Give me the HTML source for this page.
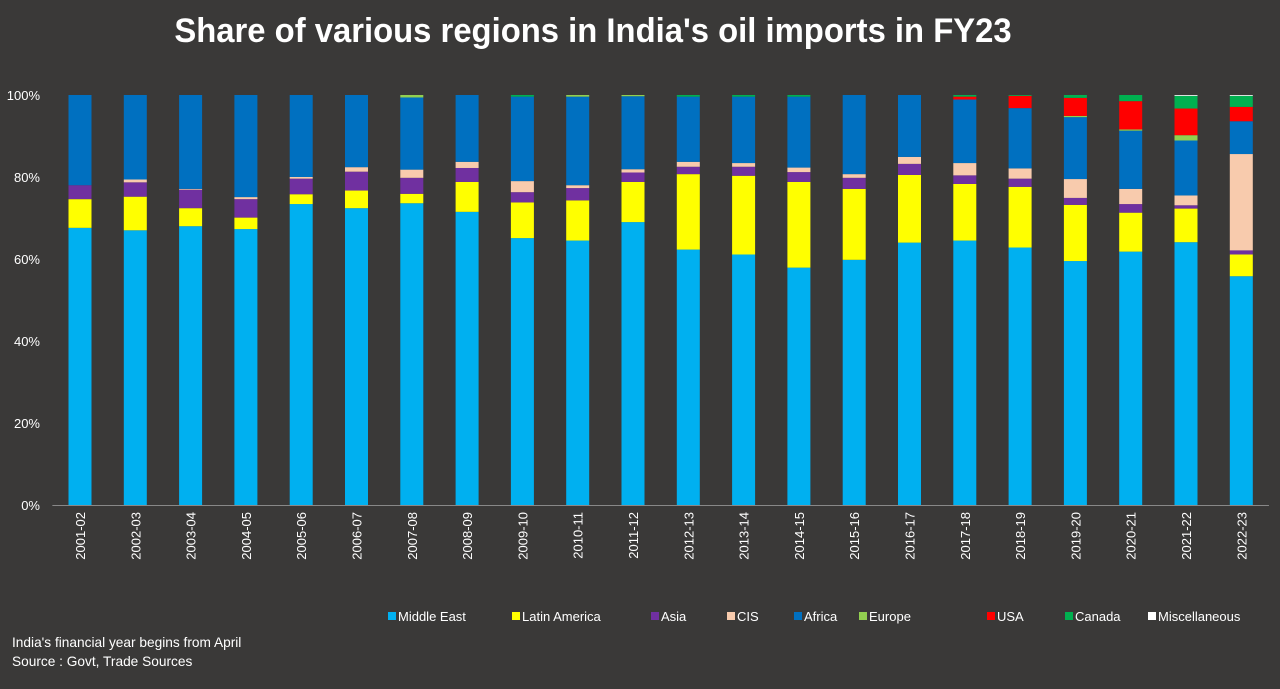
<!DOCTYPE html>
<html><head><meta charset="utf-8">
<style>
body{margin:0;background:#3a3938;width:1280px;height:689px;overflow:hidden;font-family:"Liberation Sans",sans-serif;}
svg{display:block}
</style></head>
<body>
<svg id="chart" width="1280" height="689" xmlns="http://www.w3.org/2000/svg">
<rect width="1280" height="689" fill="#3a3938"/>
<text x="593" y="42" text-anchor="middle" fill="#fff" font-size="34" font-weight="bold" transform="translate(593 0) scale(0.965 1) translate(-593 0)">Share of various regions in India's oil imports in FY23</text>
<g id="yaxis"></g>
<g id="bars"></g>
<g id="xlabels"></g>
<g id="legend"></g>
<text x="12" y="647" fill="#fff" font-size="13.7">India's financial year begins from April</text>
<text x="12" y="666" fill="#fff" font-size="13.7">Source : Govt, Trade Sources</text>
</svg>
<script>
const years=["2001-02","2002-03","2003-04","2004-05","2005-06","2006-07","2007-08","2008-09","2009-10","2010-11","2011-12","2012-13","2013-14","2014-15","2015-16","2016-17","2017-18","2018-19","2019-20","2020-21","2021-22","2022-23"];
const seriesNames=["Middle East","Latin America","Asia","CIS","Africa","Europe","USA","Canada","Miscellaneous"];
const colors=["#00b0f0","#ffff00","#7030a0","#f8cbad","#0070c0","#92d050","#ff0000","#00b050","#ffffff"];
const middleEast=[67.6,67.0,68.0,67.3,73.4,72.4,73.6,71.5,65.1,64.5,69.0,62.3,61.1,57.9,59.8,64.0,64.5,62.8,59.5,61.8,64.1,55.8];
const latinAmerica=[7.0,8.2,4.4,2.8,2.4,4.3,2.3,7.3,8.7,9.8,9.8,18.4,19.2,20.9,17.3,16.5,13.8,14.8,13.7,9.5,8.2,5.3];
const asia=[3.4,3.5,4.5,4.5,3.8,4.6,3.9,3.4,2.5,3.0,2.3,1.8,2.2,2.4,2.7,2.7,2.1,2.0,1.7,2.1,0.8,1.0];
const cis=[0,0.7,0.2,0.5,0.4,1.1,2.0,1.5,2.7,0.7,0.8,1.2,0.9,1.1,0.9,1.7,3.0,2.5,4.6,3.7,2.4,23.5];
const africa=[22.0,20.6,22.9,24.9,20.0,17.6,17.6,16.3,20.6,21.6,17.8,15.9,16.2,17.3,19.3,15.1,15.5,14.7,15.1,14.2,13.4,8.0];
const europe=[0,0,0,0,0,0,0.6,0,0,0.4,0.3,0,0,0,0,0,0,0,0.3,0.3,1.3,0];
const usa=[0,0,0,0,0,0,0,0,0,0,0,0,0,0,0,0,0.7,3.0,4.4,6.9,6.5,3.5];
const canada=[0,0,0,0,0,0,0,0,0.4,0,0,0.4,0.4,0.4,0,0,0.4,0.2,0.7,1.5,3.1,2.7];
const misc=[0,0,0,0,0,0,0,0,0,0,0,0,0,0,0,0,0,0,0,0,0.2,0.2];
const yTicks=[0,20,40,60,80,100];
const series=[middleEast,latinAmerica,asia,cis,africa,europe,usa,canada,misc];
const NS="http://www.w3.org/2000/svg";
const left=52.35,band=55.3,barW=23,y0=505,y100=95;
const y=v=>y0-(v/100)*(y0-y100);
const xc=i=>left+band*(i+0.5);
function mk(tag,attrs,parent){const e=document.createElementNS(NS,tag);for(const k in attrs)e.setAttribute(k,attrs[k]);parent.appendChild(e);return e;}
const yax=document.getElementById('yaxis');
yTicks.forEach(t=>{const e=mk('text',{x:40,y:y(t)+5,'text-anchor':'end',fill:'#fff','font-size':13},yax);e.textContent=t+'%';

});
const ax=mk('line',{x1:left,x2:left+band*years.length,y1:y0+0.5,y2:y0+0.5,stroke:'#888','stroke-width':1},yax);


const bars=document.getElementById('bars');
years.forEach((yr,i)=>{let cum=0;
series.forEach((s,k)=>{const v=s[i];if(v<=0)return;
const r=mk('rect',{x:xc(i)-barW/2,y:y(cum+v),width:barW,height:y(cum)-y(cum+v),fill:colors[k]},bars);


cum+=v;});});
const xl=document.getElementById('xlabels');
years.forEach((yr,i)=>{const e=mk('text',{x:0,y:0,'text-anchor':'end',fill:'#fff','font-size':13,transform:`translate(${xc(i)+5} 512) rotate(-90)`},xl);e.textContent=yr;

});
const lg=document.getElementById('legend');
const lx=[388,512,651,727,794,859,987,1065,1148];
seriesNames.forEach((n,k)=>{const g=mk('g',{},lg);


mk('rect',{x:lx[k],y:612,width:8,height:8,fill:colors[k]},g);
const t=mk('text',{x:lx[k]+10,y:621,fill:'#fff','font-size':13},g);t.textContent=n;});
</script>
</body></html>
